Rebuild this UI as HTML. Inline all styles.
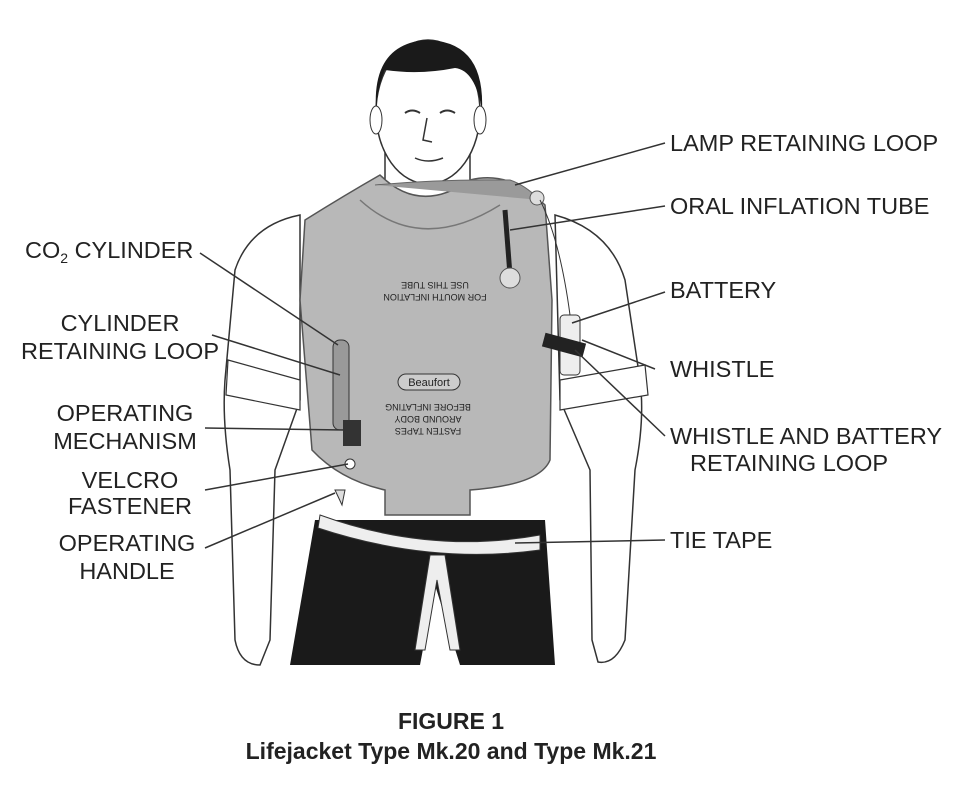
<!DOCTYPE html>
<html><head><meta charset="utf-8"><style>
html,body{margin:0;padding:0;background:#fff;}
svg{display:block}
text{font-family:"Liberation Sans",sans-serif;fill:#222;}
.l{font-size:23.5px;}
</style></head><body>
<svg width="976" height="789" viewBox="0 0 976 789" xmlns="http://www.w3.org/2000/svg">
<path d="M300 215 Q250 225 235 270 L225 380 Q222 420 230 470 L235 640 Q240 665 260 665 L270 640 L275 470 L300 400 L300 215 Z" fill="#fff" stroke="#333" stroke-width="1.5"/>
<path d="M555 215 Q610 230 625 280 L640 380 Q645 420 635 470 L625 640 Q615 665 598 662 L592 640 L590 470 L560 400 Z" fill="#fff" stroke="#333" stroke-width="1.5"/>
<path d="M228 360 L300 380 L300 410 L226 395 Z" fill="#fff" stroke="#333" stroke-width="1.2"/>
<path d="M560 380 L645 365 L648 395 L560 410 Z" fill="#fff" stroke="#333" stroke-width="1.2"/>
<path d="M385 150 L385 185 Q430 215 470 185 L470 150 Z" fill="#fff" stroke="#333" stroke-width="1.5"/>
<ellipse cx="428" cy="112" rx="52" ry="72" fill="#fff" stroke="#333" stroke-width="1.5"/>
<path d="M376 110 Q372 45 425 40 Q485 40 482 110 Q475 70 455 68 Q420 75 385 70 Q378 85 376 110 Z" fill="#1a1a1a"/>
<ellipse cx="376" cy="120" rx="6" ry="14" fill="#fff" stroke="#333"/>
<ellipse cx="480" cy="120" rx="6" ry="14" fill="#fff" stroke="#333"/>
<path d="M405 113 Q412 108 420 113 M440 113 Q447 108 455 113" stroke="#333" fill="none" stroke-width="2"/>
<path d="M427 118 L423 140 L432 142 M415 158 Q428 164 443 158" stroke="#333" fill="none" stroke-width="1.5"/>
<path d="M305 220 Q345 195 380 175 Q420 215 470 180 Q510 170 545 205 L552 300 L550 460 Q540 485 470 490 L470 515 L385 515 L385 490 Q340 480 312 450 L300 300 Z" fill="#b8b8b8" stroke="#555" stroke-width="1.5"/>
<path d="M360 200 Q420 255 500 205" fill="none" stroke="#777" stroke-width="1.5"/>
<path d="M375 185 Q430 180 485 180 L510 180 Q525 185 540 200" fill="#9a9a9a" stroke="#666"/>
<line x1="505" y1="210" x2="510" y2="275" stroke="#222" stroke-width="5"/>
<circle cx="510" cy="278" r="10" fill="#ddd" stroke="#555"/>
<circle cx="537" cy="198" r="7" fill="#ddd" stroke="#555"/>
<text x="435" y="290" font-size="9" text-anchor="middle" transform="rotate(180 435 286)">USE THIS TUBE</text>
<text x="435" y="302" font-size="9" text-anchor="middle" transform="rotate(180 435 298)">FOR MOUTH INFLATION</text>
<rect x="398" y="374" width="62" height="16" rx="8" fill="#ccc" stroke="#333"/>
<text x="429" y="386" font-size="11" text-anchor="middle">Beaufort</text>
<text x="428" y="412" font-size="9" text-anchor="middle" transform="rotate(180 428 408)">BEFORE INFLATING</text>
<text x="428" y="424" font-size="9" text-anchor="middle" transform="rotate(180 428 420)">AROUND BODY</text>
<text x="428" y="436" font-size="9" text-anchor="middle" transform="rotate(180 428 432)">FASTEN TAPES</text>
<rect x="333" y="340" width="16" height="90" rx="7" fill="#999" stroke="#333"/>
<rect x="343" y="420" width="18" height="26" fill="#333"/>
<circle cx="350" cy="464" r="5" fill="#fff" stroke="#333"/>
<path d="M335 490 L342 505 L345 490 Z" fill="#ddd" stroke="#333"/>
<rect x="560" y="315" width="20" height="60" rx="4" fill="#eee" stroke="#333"/>
<rect x="543" y="338" width="42" height="14" fill="#222" transform="rotate(15 564 345)"/>
<path d="M540 200 Q560 240 570 315" stroke="#333" fill="none"/>
<path d="M290 665 L315 520 L545 520 L555 665 L460 665 L435 585 L420 665 Z" fill="#1a1a1a"/>
<path d="M320 515 Q430 555 540 535 L540 550 Q430 565 318 528 Z" fill="#eee" stroke="#333"/>
<path d="M430 555 L415 650 L425 650 L437 580 L450 650 L460 650 L445 555 Z" fill="#eee" stroke="#333"/>
<g stroke="#333" stroke-width="1.5" fill="none">
<line x1="200" y1="253" x2="338" y2="345"/>
<line x1="212" y1="335" x2="340" y2="375"/>
<line x1="205" y1="428" x2="345" y2="430"/>
<line x1="205" y1="490" x2="348" y2="464"/>
<line x1="205" y1="548" x2="335" y2="493"/>
<line x1="665" y1="143" x2="515" y2="185"/>
<line x1="665" y1="206" x2="510" y2="230"/>
<line x1="665" y1="292" x2="572" y2="323"/>
<line x1="655" y1="369" x2="582" y2="340"/>
<line x1="665" y1="436" x2="575" y2="350"/>
<line x1="665" y1="540" x2="515" y2="543"/>
</g>
<text class="l" x="25" y="258">CO<tspan font-size="14" dy="5">2</tspan><tspan dy="-5"> CYLINDER</tspan></text>
<text class="l" x="120" y="331" text-anchor="middle">CYLINDER</text>
<text class="l" x="120" y="359" text-anchor="middle">RETAINING LOOP</text>
<text class="l" x="125" y="421" text-anchor="middle">OPERATING</text>
<text class="l" x="125" y="449" text-anchor="middle">MECHANISM</text>
<text class="l" x="130" y="488" text-anchor="middle">VELCRO</text>
<text class="l" x="130" y="514" text-anchor="middle">FASTENER</text>
<text class="l" x="127" y="551" text-anchor="middle">OPERATING</text>
<text class="l" x="127" y="579" text-anchor="middle">HANDLE</text>
<text class="l" x="670" y="151">LAMP RETAINING LOOP</text>
<text class="l" x="670" y="214">ORAL INFLATION TUBE</text>
<text class="l" x="670" y="298">BATTERY</text>
<text class="l" x="670" y="377">WHISTLE</text>
<text class="l" x="670" y="444">WHISTLE AND BATTERY</text>
<text class="l" x="690" y="471">RETAINING LOOP</text>
<text class="l" x="670" y="548">TIE TAPE</text>
<text x="451" y="729" font-size="23" font-weight="bold" text-anchor="middle">FIGURE 1</text>
<text x="451" y="759" font-size="23" font-weight="bold" text-anchor="middle">Lifejacket Type Mk.20 and Type Mk.21</text>
</svg>
</body></html>
